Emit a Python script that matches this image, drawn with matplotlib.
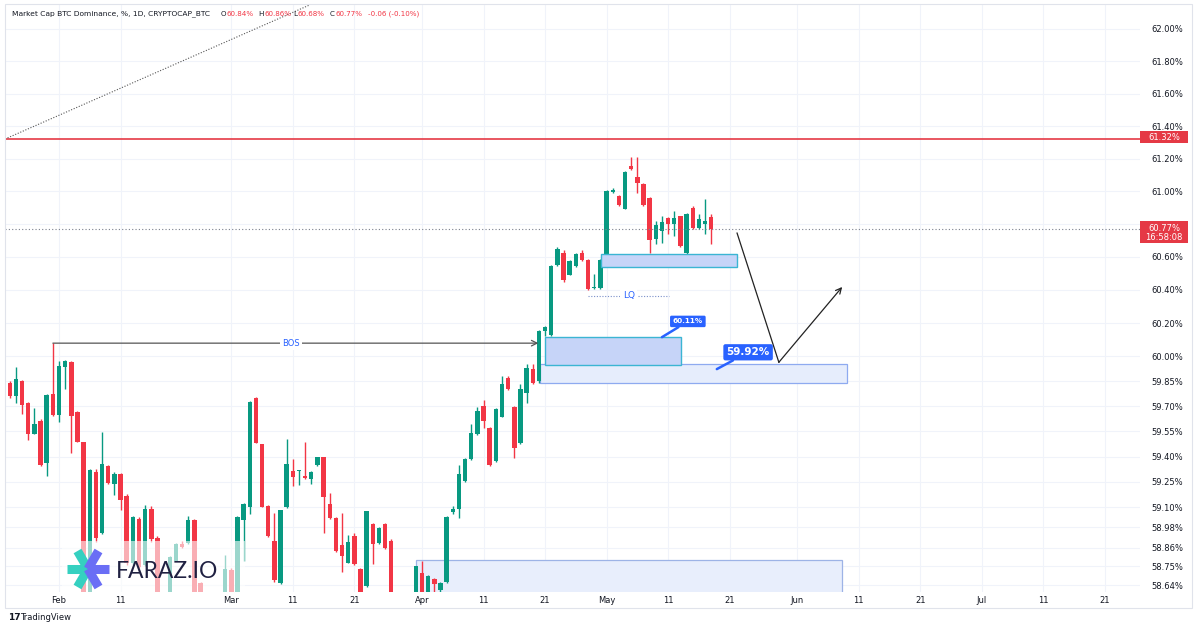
import matplotlib
matplotlib.use('Agg')
import matplotlib.pyplot as plt
import matplotlib.dates as mdates
import matplotlib.ticker as mticker
import numpy as np
import pandas as pd
from matplotlib.patches import Rectangle
from matplotlib.lines import Line2D

# ---------------- data ----------------
dates = pd.date_range('2025-01-24', '2025-05-18', freq='D')

opens = [59.837, 59.762, 59.851, 59.722, 59.537, 59.613, 59.364, 59.772,
         59.647, 59.936, 59.964, 59.666, 59.487, 58.56, 59.311, 58.945, 59.344, 59.237, 59.295, 59.169,
         58.768, 59.032, 58.757, 59.090, 58.918, 58.55, 58.57, 58.785, 58.883, 58.890, 59.023, 58.652,
         58.55, 58.46, 58.38, 58.50,
         58.731, 58.56, 59.023, 59.10, 59.751, 59.474, 59.106, 58.902, 58.65, 59.10, 59.315, 59.313,
         59.285, 59.269, 59.349, 59.398, 59.116, 59.038, 58.879, 58.772, 58.931, 58.737, 58.636, 59.0,
         58.886, 59.0, 58.902, 58.55, 58.45, 58.48, 58.52,
         58.714, 58.58, 58.679, 58.61, 58.656, 59.071, 59.09, 59.255, 59.387, 59.533, 59.702, 59.573,
         59.374, 59.638, 59.867, 59.696, 59.48, 59.781, 59.924, 59.85, 60.152, 60.127, 60.55, 60.626,
         60.491, 60.545, 60.626, 60.58, 60.41, 60.414,
         60.606, 60.995, 60.97, 60.893, 61.155, 61.089, 61.045, 60.959, 60.707, 60.758, 60.835, 60.798,
         60.848, 60.622, 60.899, 60.775, 60.80, 60.84]
highs = [59.851, 59.936, 59.857, 59.728, 59.692, 59.625, 59.774, 60.079,
         59.974, 59.976, 59.970, 59.672, 59.490, 59.327, 59.326, 59.549, 59.350, 59.310, 59.303, 59.177,
         59.048, 59.04, 59.112, 59.106, 58.93, 58.59, 58.81, 58.89, 58.90, 59.048, 59.03, 58.66,
         58.58, 58.50, 58.52, 58.815,
         58.74, 59.05, 59.125, 59.732, 59.756, 59.476, 59.11, 59.067, 59.085, 59.504, 59.386, 59.318,
         59.487, 59.315, 59.40, 59.40, 59.185, 59.04, 59.067, 58.937, 58.945, 58.74, 59.08, 59.005,
         58.985, 59.005, 58.91, 58.57, 58.52, 58.55, 58.755,
         58.78, 58.70, 58.68, 58.66, 59.045, 59.106, 59.35, 59.39, 59.593, 59.696, 59.736, 59.575,
         59.69, 59.881, 59.88, 59.70, 59.833, 59.954, 59.954, 60.16, 60.18, 60.55, 60.66, 60.64,
         60.58, 60.625, 60.642, 60.585, 60.495, 60.585,
         61.01, 61.02, 60.975, 61.125, 61.211, 61.207, 61.05, 60.965, 60.818, 60.848, 60.84, 60.879,
         60.85, 60.87, 60.91, 60.86, 60.95, 60.86]
lows = [59.752, 59.722, 59.653, 59.498, 59.533, 59.344, 59.285, 59.642,
        59.607, 59.805, 59.424, 59.487, 58.52, 58.52, 58.892, 58.943, 59.237, 59.172, 59.081, 58.76,
        58.757, 58.74, 58.75, 58.892, 58.52, 58.48, 58.55, 58.78, 58.86, 58.885, 58.55, 58.52,
        58.42, 58.33, 58.35, 58.48,
        58.52, 58.54, 58.785, 59.057, 59.48, 59.10, 58.925, 58.657, 58.645, 59.095, 59.225, 59.231,
        59.267, 59.237, 59.345, 58.95, 59.03, 58.835, 58.717, 58.77, 58.76, 58.55, 58.63, 58.766,
        58.88, 58.85, 58.50, 58.40, 58.42, 58.44, 58.50,
        58.56, 58.56, 58.60, 58.59, 58.65, 59.057, 59.038, 59.25, 59.38, 59.53, 59.573, 59.345,
        59.37, 59.635, 59.80, 59.39, 59.475, 59.722, 59.835, 59.84, 60.12, 60.12, 60.545, 60.45,
        60.49, 60.54, 60.575, 60.40, 60.405, 60.406,
        60.60, 60.99, 60.91, 60.89, 61.13, 60.99, 60.91, 60.626, 60.677, 60.687, 60.738, 60.727,
        60.66, 60.62, 60.77, 60.77, 60.74, 60.68]
closes = [59.762, 59.865, 59.706, 59.533, 59.593, 59.350, 59.766, 59.648,
          59.940, 59.970, 59.642, 59.489, 58.56, 59.319, 58.918, 59.355, 59.241, 59.299, 59.142, 58.77,
          59.044, 58.747, 59.088, 58.912, 58.55, 58.57, 58.805, 58.883, 58.864, 59.023, 58.57, 58.55,
          58.46, 58.38, 58.50, 58.737,
          58.56, 59.042, 59.12, 59.726, 59.483, 59.10, 58.931, 58.669, 59.081, 59.358, 59.279, 59.316,
          59.273, 59.31, 59.398, 59.16, 59.034, 58.84, 58.81, 58.892, 58.766, 58.58, 59.077, 58.883,
          58.979, 58.857, 58.55, 58.45, 58.48, 58.52, 58.75,
          58.58, 58.692, 58.646, 58.653, 59.044, 59.087, 59.299, 59.384, 59.543, 59.672, 59.613, 59.35,
          59.682, 59.831, 59.805, 59.45, 59.802, 59.927, 59.841, 60.15, 60.176, 60.545, 60.647, 60.459,
          60.576, 60.62, 60.58, 60.404, 60.414, 60.58,
          61.004, 61.01, 60.915, 61.12, 61.139, 61.048, 60.915, 60.701, 60.794, 60.814, 60.798, 60.835,
          60.667, 60.862, 60.774, 60.83, 60.82, 60.77]

ytick_vals = [62.00, 61.80, 61.60, 61.40, 61.20, 61.00, 60.80, 60.60, 60.40, 60.20, 60.00,
              59.85, 59.70, 59.55, 59.40, 59.25, 59.10, 58.98, 58.86, 58.75, 58.64]
xtick_dates = ['2025-02-01', '2025-02-11', '2025-03-01', '2025-03-11', '2025-03-21',
               '2025-04-01', '2025-04-11', '2025-04-21', '2025-05-01', '2025-05-11', '2025-05-21',
               '2025-06-01', '2025-06-11', '2025-06-21', '2025-07-01', '2025-07-11', '2025-07-21']
xtick_labels = ['Feb', '11', 'Mar', '11', '21', 'Apr', '11', '21', 'May', '11', '21',
                'Jun', '11', '21', 'Jul', '11', '21']

resistance = 61.32
last_price = 60.77
bos_level = 60.079

# zones: (start date, end date, low, high)
zone_a = ('2025-04-21', '2025-05-13 02:00', 59.946, 60.115)
zone_b = ('2025-04-20 05:00', '2025-06-09', 59.84, 59.952)
zone_c = ('2025-04-30 02:00', '2025-05-22 05:00', 60.539, 60.618)
zone_d = ('2025-03-31', '2025-06-08 05:00', 58.55, 58.79)

# ---------------- figure ----------------
W, H = 1200, 630
fig = plt.figure(figsize=(12, 6.3), dpi=100)
fig.patch.set_facecolor('white')

def fx(x):
    return x / W

def fy(y):
    return 1 - y / H

ax = fig.add_axes([fx(5), fy(592), fx(1140) - fx(5), fy(4) - fy(592)])
ax.set_yscale('log')
for s in ax.spines.values():
    s.set_visible(False)

d2n = lambda s: mdates.date2num(pd.Timestamp(s))
x0 = d2n('2025-02-01')

xs = mdates.date2num(dates)
o = np.array(opens); h = np.array(highs); l = np.array(lows); c = np.array(closes)
up = c >= o
GREEN, RED = '#089981', '#f23645'
cols = np.where(up, GREEN, RED)
ax.vlines(xs, l, h, colors=cols, lw=1.0, zorder=3)
blo = np.minimum(o, c)
bh = np.maximum(np.abs(c - o), 0.006)
ax.bar(xs, bh, bottom=blo, width=0.72, color=cols, linewidth=0, zorder=4)

ax.set_ylim(58.60, 62.155)
ax.set_xlim(x0 - 8.78, x0 + 175.7)

# grid / ticks
ax.yaxis.set_major_locator(mticker.FixedLocator(ytick_vals))
ax.yaxis.set_major_formatter(mticker.FixedFormatter([f'{v:.2f}%' for v in ytick_vals]))
ax.yaxis.set_minor_locator(mticker.NullLocator())
ax.yaxis.tick_right()
ax.xaxis.set_major_locator(mticker.FixedLocator([d2n(d) for d in xtick_dates]))
ax.xaxis.set_major_formatter(mticker.FixedFormatter(xtick_labels))
ax.tick_params(axis='y', length=0, pad=8, labelsize=6, colors='#131722')
ax.tick_params(axis='x', length=0, pad=3, labelsize=6, colors='#131722')
ax.grid(True, color='#f0f3fa', lw=0.8)
ax.set_axisbelow(True)

# zones
def zone(z, fc, ec, lw=1.0, zo=2):
    xa, xb = d2n(z[0]), d2n(z[1])
    ax.add_patch(Rectangle((xa, z[2]), xb - xa, z[3] - z[2], facecolor=fc, edgecolor=ec,
                           lw=lw, zorder=zo))

zone(zone_d, '#e8eefc', '#9db3e6', 0.9)
zone(zone_b, '#e6edfc', '#8eaaf0', 0.9)
zone(zone_a, '#c6d4f8', '#3bb5d3', 1.0, 5)
zone(zone_c, '#c6d4f8', '#3bb5d3', 1.0, 5)

# resistance + current price
ax.axhline(resistance, color='#e53945', lw=1.2, zorder=6)
ax.axhline(last_price, color='#7a7f8c', lw=0.8, ls=(0, (1, 2)), zorder=6)

# diagonal trendline (dotted)
ax.plot([x0 - 8.78, x0 + 40.8], [resistance, 62.15], color='#555555', lw=0.8,
        ls=(0, (1, 1.5)), zorder=6, clip_on=True)

# BOS
bos_start = d2n('2025-01-31')
bos_end = d2n('2025-04-19 22:00')
ax.annotate('', xy=(bos_end, bos_level), xytext=(bos_start, bos_level),
            arrowprops=dict(arrowstyle='->', color='#555555', lw=0.9, shrinkA=0, shrinkB=0),
            zorder=6)
ax.text(d2n('2025-03-10 17:00'), bos_level, 'BOS', color='#2962ff', fontsize=6, ha='center',
        va='center', zorder=7, bbox=dict(boxstyle='square,pad=0.25', fc='white', ec='none'))

# LQ
ax.plot([d2n('2025-04-28'), d2n('2025-05-11 02:00')], [60.365, 60.365], color='#7a8fc9',
        lw=0.8, ls=(0, (1, 1.5)), zorder=6)
ax.text(d2n('2025-05-04 14:00'), 60.365, 'LQ', color='#2962ff', fontsize=6.5, ha='center',
        va='center', zorder=7, bbox=dict(boxstyle='square,pad=0.25', fc='white', ec='none'))

# projected path
p1 = (d2n('2025-05-22 05:00'), 60.745)
p2 = (d2n('2025-05-29'), 59.964)
p3 = (d2n('2025-06-08 07:00'), 60.418)
ax.plot([p1[0], p2[0]], [p1[1], p2[1]], color='#222222', lw=0.9, zorder=7)
ax.annotate('', xy=p3, xytext=p2,
            arrowprops=dict(arrowstyle='->', color='#222222', lw=0.9, shrinkA=0, shrinkB=0),
            zorder=7)

# callouts
ax.annotate('60.11%', xy=(d2n('2025-05-10'), 60.115), xytext=(d2n('2025-05-14 05:00'), 60.21),
            color='white', fontsize=5.2, fontweight='bold', ha='center', va='center', zorder=8,
            bbox=dict(boxstyle='round,pad=0.38,rounding_size=0.2', fc='#2962ff', ec='none'),
            arrowprops=dict(arrowstyle='-', color='#2962ff', lw=1.8, shrinkA=0, shrinkB=0))
ax.annotate('59.92%', xy=(d2n('2025-05-18 22:00'), 59.923), xytext=(d2n('2025-05-24'), 60.024),
            color='white', fontsize=7.5, fontweight='bold', ha='center', va='center', zorder=8,
            bbox=dict(boxstyle='round,pad=0.3,rounding_size=0.2', fc='#2962ff', ec='none'),
            arrowprops=dict(arrowstyle='-', color='#2962ff', lw=1.8, shrinkA=0, shrinkB=0))

# ---------------- figure-level decorations ----------------
# right-axis price labels
fig.add_artist(Rectangle((fx(1140), fy(143)), fx(1188) - fx(1140), fy(131) - fy(143),
                         transform=fig.transFigure, fc='#e53945', ec='none', zorder=5))
fig.text(fx(1164), fy(137), '61.32%', color='white', fontsize=6, ha='center', va='center', zorder=6)
fig.add_artist(Rectangle((fx(1140), fy(243)), fx(1188) - fx(1140), fy(221) - fy(243),
                         transform=fig.transFigure, fc='#e53945', ec='none', zorder=5))
fig.text(fx(1164), fy(228), '60.77%', color='white', fontsize=6, ha='center', va='center', zorder=6)
fig.text(fx(1164), fy(237.5), '16:58:08', color='white', fontsize=6, ha='center', va='center', zorder=6)

# outer frame
fig.add_artist(Rectangle((fx(5), fy(608)), fx(1192) - fx(5), fy(4) - fy(608),
                         transform=fig.transFigure, fc='none', ec='#e0e3eb', lw=0.8, zorder=1))

# header
hdr_y = fy(14)
fig.text(fx(12), hdr_y, 'Market Cap BTC Dominance, %, 1D, CRYPTOCAP_BTC', fontsize=5.4,
         color='#131722', va='center', ha='left')
parts = [(220.5, 'O', '#131722'), (226.5, '60.84%', '#f23645'), (258, 'H', '#131722'),
         (264.5, '60.86%', '#f23645'), (293, 'L', '#131722'), (297.5, '60.68%', '#f23645'),
         (330, 'C', '#131722'), (335.5, '60.77%', '#f23645'), (368, '-0.06 (-0.10%)', '#f23645')]
for px, t, col in parts:
    fig.text(fx(px), hdr_y, t, fontsize=5.1, color=col, va='center', ha='left')

# logo overlay
fig.add_artist(Rectangle((fx(62), fy(594)), fx(245) - fx(62), fy(541) - fy(594),
                         transform=fig.transFigure, fc='white', ec='none', alpha=0.6, zorder=2))
cx, cy = 88, 569
arms = [((67, 569), '#35d0c0'), ((77.5, 551), '#35d0c0'), ((77.5, 587), '#35d0c0'),
        ((109, 569), '#6a6ef5'), ((98.5, 551), '#6a6ef5'), ((98.5, 587), '#6a6ef5')]
for (ex, ey), col in arms:
    fig.add_artist(Line2D([fx(cx), fx(ex)], [fy(cy), fy(ey)], transform=fig.transFigure,
                          color=col, lw=6.5, solid_capstyle='butt', zorder=3))
fig.text(fx(116), fy(572), 'FARAZ.IO', fontsize=16.5, color='#1f2041', family='Lato',
         fontweight='normal', ha='left', va='center', zorder=4)

# footer
fig.text(fx(8), fy(618), '17', fontsize=6.5, fontweight='bold', color='#131722', va='center')
fig.text(fx(20), fy(618), 'TradingView', fontsize=6, color='#131722', va='center')

fig.savefig('out.png', dpi=100)
